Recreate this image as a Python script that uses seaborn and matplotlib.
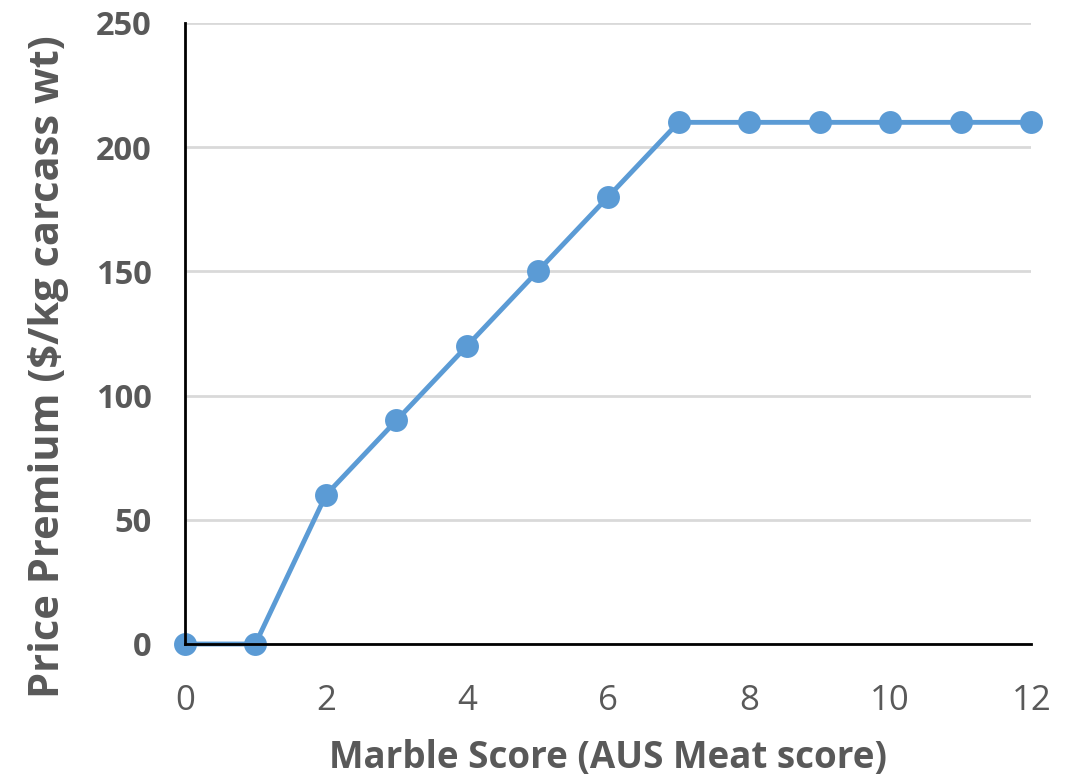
import matplotlib
matplotlib.use("Agg")
import matplotlib.pyplot as plt
import seaborn as sns
import pandas as pd

# Marble score vs price premium
marble_score = [0, 1, 2, 3, 4, 5, 6, 7, 8, 9, 10, 11, 12]
price_premium = [0, 0, 60, 90, 120, 150, 180, 210, 210, 210, 210, 210, 210]
x_ticks = [0, 2, 4, 6, 8, 10, 12]
y_ticks = [0, 50, 100, 150, 200, 250]

df = pd.DataFrame({"score": marble_score, "premium": price_premium})

sns.set_theme(style="white")
plt.rcParams["font.family"] = ["Open Sans", "DejaVu Sans"]

LINE = "#5B9BD5"
TEXT = "#595959"

fig = plt.figure(figsize=(10.81, 7.79), dpi=100)
ax = fig.add_axes([0.171, 0.1733, 0.783, 0.7972])

ax.yaxis.grid(True, color="#D9D9D9", linewidth=2)
ax.set_axisbelow(True)

sns.lineplot(data=df, x="score", y="premium", ax=ax, color=LINE,
             linewidth=3.5, marker="o", markersize=16.5,
             markeredgewidth=0, clip_on=False)

ax.set_xlim(0, 12)
ax.set_ylim(0, 250)
ax.set_xticks(x_ticks)
ax.set_yticks(y_ticks)
ax.tick_params(axis="both", length=0)
ax.tick_params(axis="x", labelsize=25, labelcolor=TEXT, pad=29)
ax.tick_params(axis="y", labelsize=23.5, labelcolor=TEXT, pad=24)
for lbl in ax.get_yticklabels():
    lbl.set_fontweight("bold")

for side in ("top", "right"):
    ax.spines[side].set_visible(False)
for side in ("left", "bottom"):
    ax.spines[side].set_color("black")
    ax.spines[side].set_linewidth(2)

ax.set_xlabel("Marble Score (AUS Meat score)", fontsize=26.5,
              fontweight="bold", color=TEXT, labelpad=15)
ax.set_ylabel("Price Premium ($/kg carcass wt)", fontsize=30,
              fontweight="bold", color=TEXT, labelpad=19)
ax.yaxis.label.set_y(0.446)

fig.savefig("out.png", dpi=100)
